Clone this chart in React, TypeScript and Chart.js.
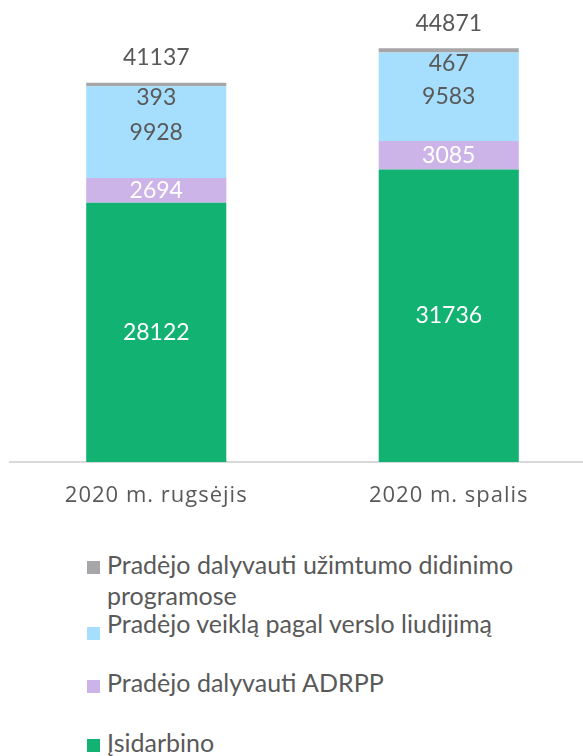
import React, { useEffect, useRef } from "react";
import { Chart, registerables } from "chart.js";

Chart.register(...registerables);

const categories = ["2020 m. rugsėjis", "2020 m. spalis"];
const seriesNames = [
  "Įsidarbino",
  "Pradėjo dalyvauti ADRPP",
  "Pradėjo veiklą pagal verslo liudijimą",
  "Pradėjo dalyvauti užimtumo didinimo programose",
];
const isidarbino = [28122, 31736];
const adrpp = [2694, 3085];
const verslo = [9928, 9583];
const uzimtumo = [393, 467];
const totals = [41137, 44871];
const colors = ["#12B273", "#CDB4E8", "#A6DEFE", "#A6A6A8"];

const FONT = "Lato";
const TICK_FONT = "Open Sans";
const TEXT = "#595959";

const spacingPlugin = {
  id: "tickSpacing",
  beforeDraw(chart: any) {
    chart.ctx.letterSpacing = "1px";
  },
  afterDraw(chart: any) {
    chart.ctx.letterSpacing = "0px";
  },
};

const labelPlugin = {
  id: "valueLabels",
  afterDatasetsDraw(chart: any) {
    const ctx = chart.ctx;
    ctx.save();
    ctx.letterSpacing = "0px";
    ctx.font = `23px ${FONT}`;
    ctx.textAlign = "center";
    ctx.textBaseline = "middle";
    chart.data.datasets.forEach((ds: any, i: number) => {
      const meta = chart.getDatasetMeta(i);
      meta.data.forEach((bar: any, j: number) => {
        const { x, y, base } = bar.getProps(["x", "y", "base"], true);
        let ly = (y + base) / 2;
        if (i === 3) ly = base + 11;
        ctx.fillStyle = i <= 1 ? "#FFFFFF" : TEXT;
        ctx.fillText(String(ds.data[j]), x, ly);
      });
    });
    const topMeta = chart.getDatasetMeta(3);
    topMeta.data.forEach((bar: any, j: number) => {
      ctx.fillStyle = TEXT;
      ctx.fillText(String(totals[j]), bar.x, bar.y - 25);
    });
    ctx.restore();
  },
};

export default function App() {
  const ref = useRef<HTMLCanvasElement>(null);

  useEffect(() => {
    if (!ref.current) return;
    const values = [isidarbino, adrpp, verslo, uzimtumo];
    const chart = new Chart(ref.current, {
      type: "bar",
      data: {
        labels: categories,
        datasets: values.map((d, i) => ({
          label: seriesNames[i],
          data: d,
          backgroundColor: colors[i],
          borderWidth: 0,
          barPercentage: 0.479,
          categoryPercentage: 1,
        })),
      },
      options: {
        animation: false,
        responsive: false,
        maintainAspectRatio: false,
        layout: { padding: { left: 10, right: 5, top: 1, bottom: 0 } },
        plugins: { legend: { display: false }, tooltip: { enabled: false } },
        scales: {
          x: {
            stacked: true,
            grid: { display: false, drawTicks: false },
            border: { display: true, color: "#D9D9D9", width: 2 },
            ticks: { color: TEXT, font: { family: TICK_FONT, size: 22 }, padding: 21 },
            afterFit(scale: any) {
              scale.height = 56;
            },
          },
          y: { stacked: true, display: false, min: 0, max: 50000 },
        },
      },
      plugins: [spacingPlugin, labelPlugin],
    });
    return () => chart.destroy();
  }, []);

  const legendOrder = [3, 2, 1, 0];
  const itemTops = [549, 608, 667, 727];
  const squareTops = [561, 627, 680, 739];

  return (
    <div
      style={{
        position: "fixed",
        left: 0,
        top: 0,
        width: 583,
        height: 756,
        overflow: "hidden",
        background: "#fff",
        fontFamily: FONT,
      }}
    >
      <canvas ref={ref} width={600} height={518} style={{ width: 600, height: 518, display: "block" }} />
      {legendOrder.map((si, k) => (
        <React.Fragment key={si}>
          <div
            style={{
              position: "absolute",
              left: 87,
              top: squareTops[k],
              width: 13,
              height: 13,
              background: colors[si],
            }}
          />
          <div
            style={{
              position: "absolute",
              left: 107,
              top: itemTops[k],
              width: 440,
              fontSize: 25,
              lineHeight: "31px",
              color: TEXT,
            }}
          >
            {seriesNames[si]}
          </div>
        </React.Fragment>
      ))}
    </div>
  );
}
